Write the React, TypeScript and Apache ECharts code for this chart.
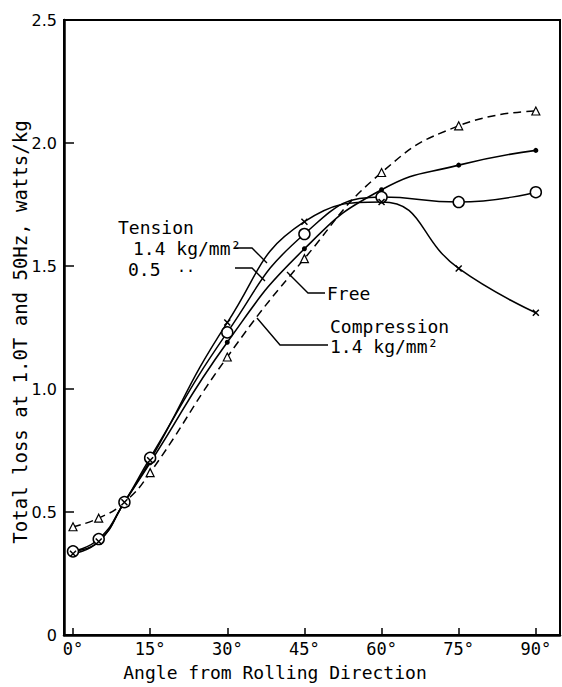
import React, { useEffect, useRef } from 'react';
import * as echarts from 'echarts';

// Angle from rolling direction (degrees) at which loss was measured
const angles = [0, 5, 10, 15, 30, 45, 60, 75, 90];

// Total loss at 1.0T, 50Hz (watts/kg) for each stress condition
const compression14 = [0.44, 0.475, 0.54, 0.66, 1.13, 1.53, 1.88, 2.07, 2.13];
const free = [0.34, 0.38, 0.54, 0.7, 1.19, 1.57, 1.81, 1.91, 1.97];
const tension05 = [0.34, 0.39, 0.54, 0.72, 1.23, 1.63, 1.78, 1.76, 1.8];
const tension14 = [0.33, 0.38, 0.54, 0.71, 1.27, 1.68, 1.76, 1.49, 1.31];

const xTicks = [0, 15, 30, 45, 60, 75, 90];
const yTicks = [0, 0.5, 1.0, 1.5, 2.0, 2.5];

const FONT = '"DejaVu Sans Mono", monospace';
const SANS = '"DejaVu Sans", sans-serif';
const INK = '#000';

const pairs = (ys: number[]) => angles.map((a, i) => [a, ys[i]]);

export default function App() {
  const ref = useRef<HTMLDivElement>(null);

  useEffect(() => {
    const chart = echarts.init(ref.current!, null, { renderer: 'svg' });

    const text = (x: number, y: number, t: string, size = 18) => ({
      type: 'text',
      x,
      y,
      style: { text: t, fill: INK, fontFamily: FONT, fontSize: size, verticalAlign: 'middle', align: 'left' },
    });
    const leader = (pts: number[][]) => ({
      type: 'polyline',
      shape: { points: pts },
      style: { stroke: INK, lineWidth: 1.4, fill: 'none' },
    });

    chart.setOption({
      animation: false,
      backgroundColor: '#fff',
      grid: {
        left: 64,
        top: 20,
        right: 2,
        bottom: 52,
        show: true,
        borderColor: INK,
        borderWidth: 2,
        outerBoundsMode: 'none',
        containLabel: false,
      },
      xAxis: {
        type: 'value',
        min: -1.75,
        max: 94.7,
        splitLine: { show: false },
        axisLine: { onZero: false, lineStyle: { color: INK, width: 2.5 } },
        axisTick: { inside: true, length: 7, customValues: xTicks, lineStyle: { color: INK, width: 1.5 } },
        axisLabel: {
          customValues: xTicks,
          formatter: (v: number) => `${v}°`,
          color: INK,
          fontFamily: FONT,
          fontSize: 17,
          margin: 5,
        },
      },
      yAxis: {
        type: 'value',
        min: 0,
        max: 2.5,
        interval: 0.5,
        splitLine: { show: false },
        axisLine: { onZero: false, lineStyle: { color: INK, width: 2.5 } },
        axisTick: { inside: true, length: 10, customValues: yTicks, lineStyle: { color: INK, width: 1.5 } },
        axisLabel: {
          customValues: yTicks,
          formatter: (v: number) => (v === 0 ? '0' : v.toFixed(1)),
          color: INK,
          fontFamily: SANS,
          fontSize: 16,
          margin: 7,
        },
      },
      series: [
        {
          name: 'Compression 1.4 kg/mm²',
          type: 'line',
          smooth: 0.5,
          data: pairs(compression14),
          lineStyle: { color: INK, width: 1.5, type: [8, 5] },
          symbol: 'triangle',
          symbolSize: 8,
          itemStyle: { color: '#fff', borderColor: INK, borderWidth: 1.2 },
        },
        {
          name: 'Free',
          type: 'line',
          smooth: 0.5,
          data: pairs(free),
          lineStyle: { color: INK, width: 1.6 },
          symbol: 'circle',
          symbolSize: 5,
          itemStyle: { color: INK, borderColor: INK, borderWidth: 0 },
        },
        {
          name: 'Tension 0.5 kg/mm²',
          type: 'line',
          smooth: 0.5,
          data: pairs(tension05),
          lineStyle: { color: INK, width: 1.5 },
          symbol: 'circle',
          symbolSize: 11,
          itemStyle: { color: '#fff', borderColor: INK, borderWidth: 1.5 },
        },
        {
          name: 'Tension 1.4 kg/mm²',
          type: 'line',
          smooth: 0.5,
          data: pairs(tension14),
          lineStyle: { color: INK, width: 1.5 },
          symbol: 'path://M0,0L10,10M10,0L0,10',
          symbolSize: 6,
          itemStyle: { color: INK, borderColor: INK, borderWidth: 1.5 },
        },
      ],
      graphic: [
        {
          type: 'text',
          x: 275,
          y: 672,
          style: {
            text: 'Angle from Rolling Direction',
            fill: INK,
            fontFamily: FONT,
            fontSize: 18,
            align: 'center',
            verticalAlign: 'middle',
          },
        },
        {
          type: 'text',
          x: 20,
          y: 332,
          rotation: Math.PI / 2,
          style: {
            text: 'Total loss at 1.0T and 50Hz, watts/kg',
            fill: INK,
            fontFamily: FONT,
            fontSize: 19,
            align: 'center',
            verticalAlign: 'middle',
          },
        },
        text(118, 227, 'Tension'),
        text(133, 248, '1.4 kg/mm²'),
        text(128, 269, '0.5'),
        text(177, 271, '··', 15),
        text(327, 293, 'Free'),
        text(330, 326, 'Compression'),
        text(330, 346, '1.4 kg/mm²'),
        leader([[235, 248], [252, 248], [267, 263]]),
        leader([[235, 268], [252, 268], [265, 281]]),
        leader([[287, 272], [308, 293], [325, 293]]),
        leader([[257, 318], [280, 345], [328, 345]]),
      ],
    });

    return () => chart.dispose();
  }, []);

  return (
    <div
      ref={ref}
      style={{ position: 'absolute', left: 0, top: 0, width: 562, height: 687, background: '#fff' }}
    />
  );
}
